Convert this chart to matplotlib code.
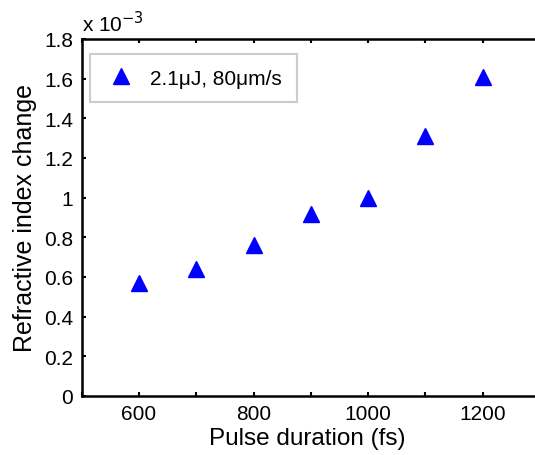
import matplotlib
matplotlib.use("Agg")
import matplotlib.pyplot as plt

# Data (refractive index change in units of 1e-3)
pulse_duration_fs = [600, 700, 800, 900, 1000, 1100, 1200]
index_change_e3 = [0.57, 0.64, 0.76, 0.92, 1.00, 1.31, 1.61]
series_label = "2.1\u03bcJ, 80\u03bcm/s"

x_ticks = [600, 800, 1000, 1200]
y_ticks = [0, 0.2, 0.4, 0.6, 0.8, 1.0, 1.2, 1.4, 1.6, 1.8]
y_tick_labels = ["0", "0.2", "0.4", "0.6", "0.8", "1", "1.2", "1.4", "1.6", "1.8"]


def plot_refractive_index():
    """Draw refractive index change against pulse duration."""
    plt.rcParams['font.family'] = ['Liberation Sans', 'DejaVu Sans']

    fig = plt.figure(figsize=(5.35, 4.56), dpi=100)
    # the original is cropped: the right spine falls just outside the image
    x_min, x_max = 500, 1312
    px_per_fs = 0.573
    ax_width = (x_max - x_min) * px_per_fs / 535
    ax = fig.add_axes([0.1527, 0.1294, ax_width, 0.7829])

    ax.plot(pulse_duration_fs, index_change_e3, linestyle='none', marker='^',
            markersize=11, color='#0000ff', markeredgecolor='#0000ff',
            label=series_label)

    ax.set_xlim(x_min, x_max)
    ax.set_ylim(0, 1.8)
    ax.set_xticks(x_ticks)
    ax.set_xticks(range(500, 1301, 100), minor=True)
    ax.set_yticks(y_ticks)
    ax.set_yticklabels(y_tick_labels)

    ax.tick_params(which='both', direction='in', top=True, right=False,
                   length=3, width=1.5, labelsize=15, pad=6)
    ax.spines['right'].set_visible(False)
    for spine in ax.spines.values():
        spine.set_linewidth(1.8)

    ax.set_xlabel('Pulse duration (fs)', fontsize=17.5)
    ax.xaxis.set_label_coords(0.485, -0.088)
    ax.set_ylabel('Refractive index change', fontsize=18, labelpad=5)

    ax.text(0.0, 1.012, "x 10$^{-3}$", transform=ax.transAxes,
            fontsize=15, ha='left', va='bottom')

    leg = ax.legend(loc='upper left', bbox_to_anchor=(0.018, 0.958),
                    borderaxespad=0, fancybox=False, fontsize=15,
                    handletextpad=0.6, borderpad=0.7, handlelength=1.6,
                    markerscale=1.0)
    leg.get_frame().set_edgecolor('#c0c0c0')
    leg.get_frame().set_linewidth(1.5)

    fig.savefig('out.png', dpi=100)


if __name__ == '__main__':
    plot_refractive_index()
